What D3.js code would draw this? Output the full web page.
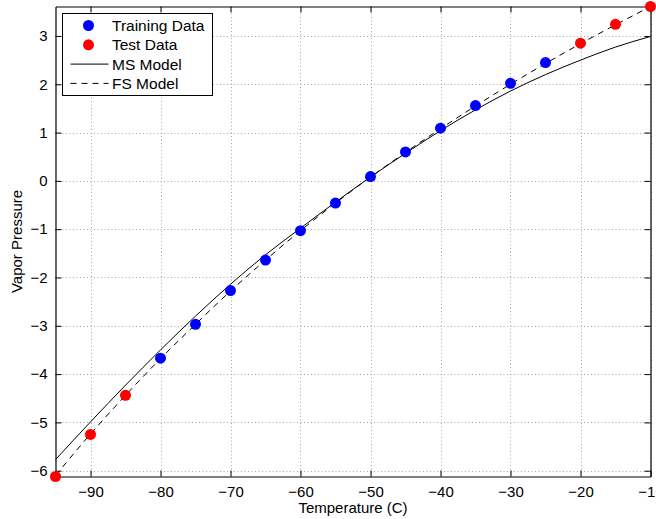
<!DOCTYPE html>
<html>
<head>
<meta charset="utf-8">
<script src="https://cdn.jsdelivr.net/npm/d3@7"></script>
<style>
  body { margin: 0; background: #fff; }
  svg { display: block; font-family: "Liberation Sans", Arial, Helvetica, sans-serif; }
</style>
</head>
<body>
<div id="chart"></div>
<script>
// data
const trainTemps = [-80, -75, -70, -65, -60, -55, -50, -45, -40, -35, -30, -25];
const trainValues = [-3.67, -2.97, -2.27, -1.64, -1.03, -0.46, 0.09, 0.60, 1.09, 1.56, 2.02, 2.45];

const testTemps = [-95, -90, -85, -20, -15, -10];
const testValues = [-6.12, -5.25, -4.44, 2.85, 3.24, 3.61];

const modelTemps = [-95, -90, -85, -80, -75, -70, -65, -60, -55, -50, -45, -40, -35, -30, -25, -20, -15, -10];
const msValues = [-5.77, -4.99, -4.23, -3.50, -2.80, -2.14, -1.53, -0.98, -0.44, 0.08, 0.57, 1.04, 1.47, 1.86, 2.20, 2.50, 2.77, 2.99];
const fsValues = [-6.10, -5.24, -4.44, -3.68, -2.97, -2.28, -1.64, -1.03, -0.46, 0.08, 0.59, 1.08, 1.55, 2.00, 2.43, 2.84, 3.23, 3.61];

const xTicks = [-90, -80, -70, -60, -50, -40, -30, -20, -10];
const yTicks = [-6, -5, -4, -3, -2, -1, 0, 1, 2, 3];

const legendItems = [
  { label: "Training Data", type: "dot", color: "#0000ff" },
  { label: "Test Data", type: "dot", color: "#ff0000" },
  { label: "MS Model", type: "line", dash: null },
  { label: "FS Model", type: "line", dash: "6,5" }
];

const W = 656, H = 519;
const plot = { left: 55.5, right: 650.5, top: 6.5, bottom: 476.5 };

const svg = d3.select("#chart").append("svg")
  .attr("width", W)
  .attr("height", H);

const x = d3.scaleLinear().domain([-95, -10]).range([plot.left, plot.right]);
const y = d3.scaleLinear().domain([-6.12, 3.61]).range([plot.bottom, plot.top]);

const fmt = d => d < 0 ? "\u2212" + Math.abs(d) : String(d);

// grid
const grid = svg.append("g").attr("class", "grid");
grid.selectAll("line.gx").data(xTicks).join("line")
  .attr("x1", d => Math.round(x(d)) + 0.5).attr("x2", d => Math.round(x(d)) + 0.5)
  .attr("y1", plot.top).attr("y2", plot.bottom)
  .attr("stroke", "#a8a8a8").attr("stroke-width", 1).attr("stroke-dasharray", "1,2.5");
grid.selectAll("line.gy").data(yTicks).join("line")
  .attr("y1", d => Math.round(y(d)) + 0.5).attr("y2", d => Math.round(y(d)) + 0.5)
  .attr("x1", plot.left).attr("x2", plot.right)
  .attr("stroke", "#a8a8a8").attr("stroke-width", 1).attr("stroke-dasharray", "1,2.5");

// axes with inward ticks (box style)
const tickLen = 6;
const xAxisB = d3.axisBottom(x).tickValues(xTicks).tickSizeInner(-tickLen).tickSizeOuter(0).tickPadding(10).tickFormat(fmt);
const xAxisT = d3.axisTop(x).tickValues(xTicks).tickSizeInner(-tickLen).tickSizeOuter(0).tickFormat("");
const yAxisL = d3.axisLeft(y).tickValues(yTicks).tickSizeInner(-tickLen).tickSizeOuter(0).tickPadding(8).tickFormat(fmt);
const yAxisR = d3.axisRight(y).tickValues(yTicks).tickSizeInner(-tickLen).tickSizeOuter(0).tickFormat("");

function styleAxis(g) {
  g.selectAll(".domain").attr("stroke", "#000").attr("stroke-width", 1.2);
  g.selectAll(".tick line").attr("stroke", "#000");
  g.selectAll(".tick text").attr("fill", "#000").style("font-size", "15px");
}

svg.append("g").attr("transform", `translate(0,${plot.bottom})`).call(xAxisB).call(styleAxis)
  .attr("font-family", null);
svg.append("g").attr("transform", `translate(0,${plot.top})`).call(xAxisT).call(styleAxis);
svg.append("g").attr("transform", `translate(${plot.left},0)`).call(yAxisL).call(styleAxis)
  .attr("font-family", null);
svg.append("g").attr("transform", `translate(${plot.right},0)`).call(yAxisR).call(styleAxis);

// model curves
const msData = modelTemps.map((t, i) => [t, msValues[i]]);
const fsData = modelTemps.map((t, i) => [t, fsValues[i]]);
const line = d3.line().x(d => x(d[0])).y(d => y(d[1])).curve(d3.curveMonotoneX);

svg.append("path").datum(msData)
  .attr("d", line).attr("fill", "none").attr("stroke", "#000").attr("stroke-width", 1);
svg.append("path").datum(fsData)
  .attr("d", line).attr("fill", "none").attr("stroke", "#000").attr("stroke-width", 1)
  .attr("stroke-dasharray", "6,5");

// points
svg.append("g").selectAll("circle").data(trainTemps.map((t, i) => [t, trainValues[i]])).join("circle")
  .attr("cx", d => x(d[0])).attr("cy", d => y(d[1])).attr("r", 5.5).attr("fill", "#0000ff");
svg.append("g").selectAll("circle").data(testTemps.map((t, i) => [t, testValues[i]])).join("circle")
  .attr("cx", d => x(d[0])).attr("cy", d => y(d[1])).attr("r", 5.5).attr("fill", "#ff0000");

// axis labels
svg.append("text")
  .attr("x", (plot.left + plot.right) / 2).attr("y", 513)
  .attr("text-anchor", "middle").style("font-size", "15px")
  .text("Temperature (C)");
svg.append("text")
  .attr("transform", `translate(22,${(plot.top + plot.bottom) / 2}) rotate(-90)`)
  .attr("text-anchor", "middle").style("font-size", "15px")
  .text("Vapor Pressure");

// legend
const legend = svg.append("g").attr("transform", "translate(62.5,13.5)");
legend.append("rect")
  .attr("width", 150).attr("height", 82)
  .attr("fill", "#fff").attr("stroke", "#000").attr("stroke-width", 1);

const rows = legend.selectAll("g.item").data(legendItems).join("g")
  .attr("class", "item")
  .attr("transform", (d, i) => `translate(0,${12 + i * 19.3})`);

rows.filter(d => d.type === "dot").append("circle")
  .attr("cx", 26).attr("cy", 0).attr("r", 5.5).attr("fill", d => d.color);
rows.filter(d => d.type === "line").append("line")
  .attr("x1", 8).attr("x2", 46).attr("y1", 0).attr("y2", 0)
  .attr("stroke", "#000").attr("stroke-width", 1)
  .attr("stroke-dasharray", d => d.dash);
rows.append("text")
  .attr("x", 49.5).attr("y", 0).attr("dy", "0.35em")
  .style("font-size", "15.5px")
  .text(d => d.label);
</script>
</body>
</html>
